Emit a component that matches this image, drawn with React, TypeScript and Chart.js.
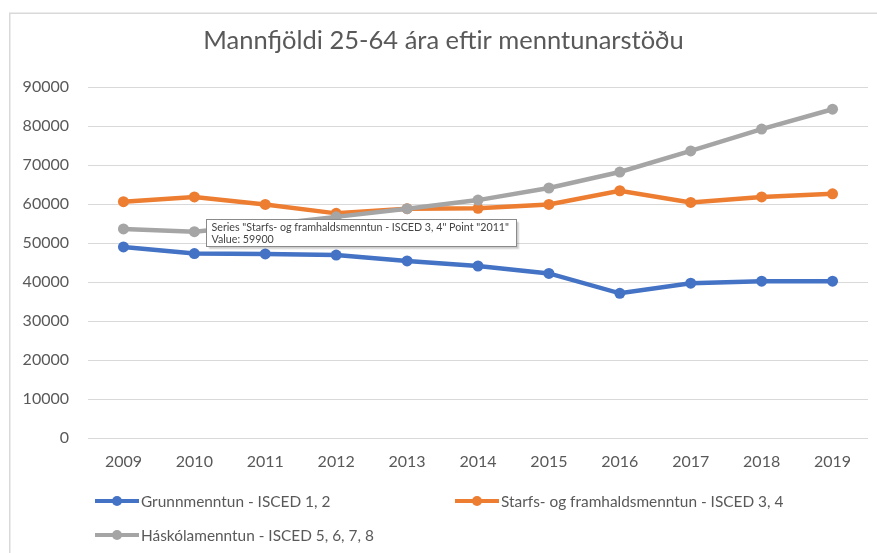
import React, { useEffect, useRef } from "react";
import { Chart, registerables } from "chart.js";

Chart.register(...registerables);

const years = ["2009", "2010", "2011", "2012", "2013", "2014", "2015", "2016", "2017", "2018", "2019"];
const grunnmenntun = [49000, 47300, 47200, 46900, 45400, 44100, 42200, 37100, 39700, 40200, 40200];
const starfsmenntun = [60600, 61800, 59900, 57600, 58800, 58900, 59900, 63400, 60400, 61800, 62600];
const haskolamenntun = [53600, 52900, 54700, 56700, 58800, 61000, 64100, 68200, 73600, 79200, 84300];
const seriesNames = [
  "Grunnmenntun - ISCED 1, 2",
  "Starfs- og framhaldsmenntun - ISCED 3, 4",
  "Háskólamenntun - ISCED 5, 6, 7, 8",
];
const seriesColors = ["#4472C4", "#ED7D31", "#A5A5A5"];
const titleText = "Mannfjöldi 25-64 ára eftir menntunarstöðu";
const yMax = 90000;
const yStep = 10000;
// hovered point shown in the reference tooltip
const tipSeries = 1;
const tipIndex = 2;

const FONT = "Lato, 'Open Sans', sans-serif";
const TEXT = "#595959";

const decorPlugin = {
  id: "decor",
  beforeDraw(chart: any) {
    const ctx = chart.ctx;
    ctx.save();
    ctx.fillStyle = "#ffffff";
    ctx.fillRect(0, 0, chart.width, chart.height);
    ctx.strokeStyle = "#d9d9d9";
    ctx.lineWidth = 1.5;
    ctx.beginPath();
    ctx.moveTo(9.75, chart.height);
    ctx.lineTo(9.75, 13.25);
    ctx.lineTo(chart.width, 13.25);
    ctx.stroke();
    ctx.restore();
  },
  afterDraw(chart: any) {
    const ctx = chart.ctx;
    ctx.save();
    // title
    ctx.fillStyle = TEXT;
    ctx.font = `25.5px ${FONT}`;
    ctx.textAlign = "center";
    ctx.textBaseline = "alphabetic";
    ctx.fillText(titleText, 443.5, 49);

    // legend
    const items = [
      { x: 95, y: 501 },
      { x: 455, y: 501 },
      { x: 95, y: 535 },
    ];
    ctx.font = `15.4px ${FONT}`;
    ctx.textAlign = "left";
    ctx.textBaseline = "middle";
    items.forEach((it, i) => {
      ctx.strokeStyle = seriesColors[i];
      ctx.lineWidth = 4;
      ctx.lineCap = "butt";
      ctx.beginPath();
      ctx.moveTo(it.x, it.y);
      ctx.lineTo(it.x + 44, it.y);
      ctx.stroke();
      ctx.fillStyle = seriesColors[i];
      ctx.beginPath();
      ctx.arc(it.x + 22, it.y, 5, 0, Math.PI * 2);
      ctx.fill();
      ctx.fillStyle = TEXT;
      ctx.fillText(seriesNames[i], it.x + 46, it.y + 1);
    });

    // static tooltip (as in the reference screenshot)
    const meta = chart.getDatasetMeta(tipSeries);
    const pt = meta.data[tipIndex];
    if (pt) {
      const line1 = `Series "${seriesNames[tipSeries]}" Point "${years[tipIndex]}"`;
      const line2 = `Value: ${starfsmenntun[tipIndex]}`;
      const bx = Math.round(pt.x) - 58.5;
      const by = Math.round(pt.y) + 15.5;
      const bw = 310;
      const bh = 27;
      ctx.fillStyle = "rgba(0,0,0,0.12)";
      ctx.fillRect(bx + 2, by + 2, bw, bh);
      ctx.fillStyle = "rgba(0,0,0,0.08)";
      ctx.fillRect(bx + 3, by + 3, bw, bh);
      ctx.fillStyle = "#ffffff";
      ctx.fillRect(bx, by, bw, bh);
      ctx.strokeStyle = "#8a8a8a";
      ctx.lineWidth = 1;
      ctx.strokeRect(bx, by, bw, bh);
      ctx.fillStyle = "#444444";
      ctx.font = `10.7px ${FONT}`;
      ctx.textAlign = "left";
      ctx.textBaseline = "middle";
      ctx.fillText(line1, bx + 5, by + 8);
      ctx.fillText(line2, bx + 5, by + 20);
    }
    ctx.restore();
  },
};

export default function App() {
  const ref = useRef<HTMLCanvasElement | null>(null);

  useEffect(() => {
    if (!ref.current) return;
    const data = [grunnmenntun, starfsmenntun, haskolamenntun];
    const chart = new Chart(ref.current, {
      type: "line",
      data: {
        labels: years,
        datasets: data.map((d, i) => ({
          label: seriesNames[i],
          data: d,
          borderColor: seriesColors[i],
          backgroundColor: seriesColors[i],
          borderWidth: 4.5,
          pointRadius: 5.5,
          pointBorderWidth: 0,
          pointBackgroundColor: seriesColors[i],
          tension: 0,
          order: 2 - i,
        })),
      },
      options: {
        responsive: false,
        animation: false,
        events: [],
        layout: { padding: { left: 0, right: 9, top: 87, bottom: 75 } },
        plugins: {
          legend: { display: false },
          title: { display: false },
          tooltip: { enabled: false },
        },
        scales: {
          x: {
            offset: true,
            grid: { display: false, drawTicks: false },
            border: { display: false },
            ticks: {
              color: TEXT,
              font: { family: FONT, size: 16 },
              padding: 14,
              maxRotation: 0,
            },
            afterFit: (s: any) => {
              s.height = 40;
            },
          },
          y: {
            min: 0,
            max: yMax,
            ticks: {
              stepSize: yStep,
              color: TEXT,
              font: { family: FONT, size: 16 },
              padding: 19,
              callback: (v: any) => String(v),
            },
            grid: { color: "#d9d9d9", lineWidth: 1, drawTicks: false },
            border: { display: false },
            afterFit: (s: any) => {
              s.width = 88;
            },
          },
        },
      },
      plugins: [decorPlugin],
    });
    return () => chart.destroy();
  }, []);

  return (
    <div style={{ position: "fixed", left: 0, top: 0, width: 877, height: 553, background: "#fff" }}>
      <canvas ref={ref} width={877} height={553} style={{ display: "block" }} />
    </div>
  );
}
